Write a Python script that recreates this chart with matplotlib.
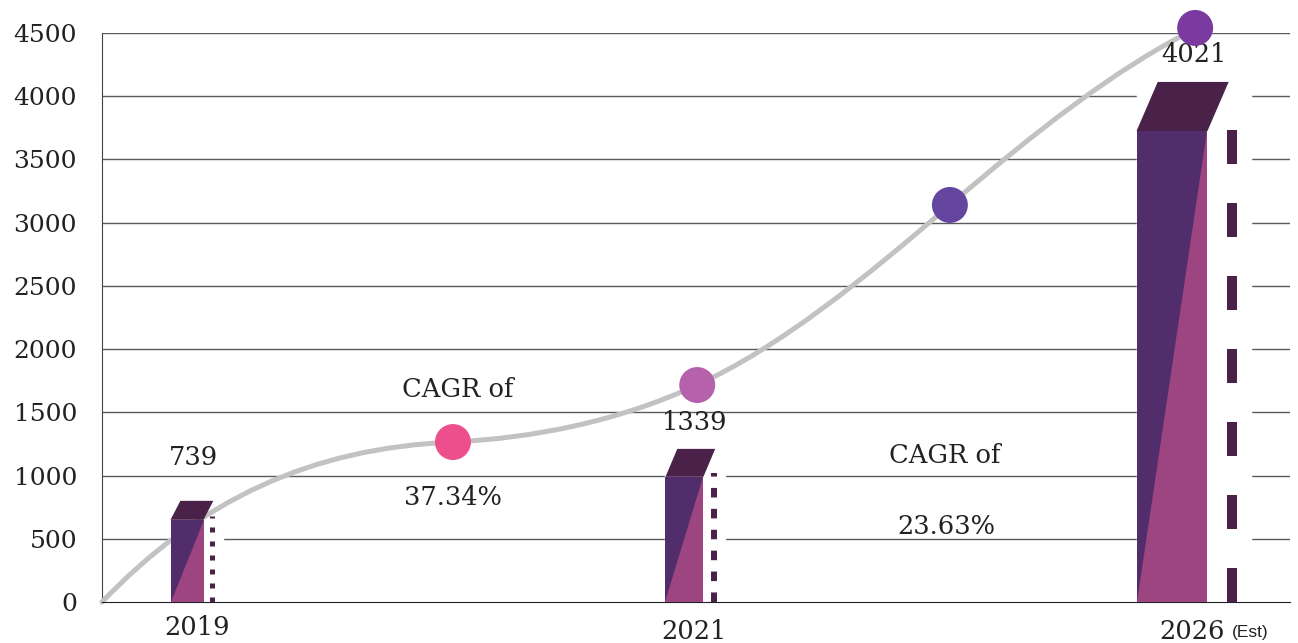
import numpy as np
import matplotlib.pyplot as plt
from matplotlib.patches import Polygon, Rectangle, PathPatch
from matplotlib.path import Path

# data
years = ["2019", "2021", "2026"]
bar_values = [650, 990, 3725]          # height of the front face as drawn
bar_labels = ["739", "1339", "4021"]
cagr_labels = ["37.34%", "23.63%"]
yticks = [0, 500, 1000, 1500, 2000, 2500, 3000, 3500, 4000, 4500]

# the grey trend curve: nodes and bezier handles (node, handle, handle, node, ...)
curve_x = [-0.1726, 0.0264, 0.2497, 0.5401, 0.7025, 0.8731, 1.0355,
           1.2081, 1.3766, 1.5492, 1.7218, 1.8843, 2.0467]
curve_y = [0, 807, 1218, 1265, 1297, 1424, 1716,
           2025, 2563, 3140, 3717, 4215, 4532]
dot_x = [0.540, 1.036, 1.549, 2.047]
dot_y = [1265, 1716, 3140, 4540]

# styling
pos = [0, 1.01, 2]
widths = [0.067, 0.077, 0.144]
depth_x = [0.02, 0.024, 0.043]
depth_y = [150, 221, 388]
dash_off = [0.018, 0.022, 0.049]
dash_lw = [3.6, 4.3, 7.2]
dash_pat = [(1.0, 1.8), (1.6, 1.9), (3.4, 3.9)]
gap_w = [0.022, 0.022, 0.04]
dot_colors = ["#ec4f8c", "#b561ac", "#6446a0", "#7a3a9f"]
purple = "#522d6b"
pink = "#9c4580"
dark = "#4a2249"
serif = "DejaVu Serif"

fig = plt.figure(figsize=(12.98, 6.43), dpi=100)
ax = fig.add_axes([102 / 1298, 41 / 643, (1290 - 102) / 1298, 569 / 643])
ax.set_xlim(-0.1726, 2.2396)
ax.set_ylim(0, 4500)

for y in yticks[1:]:
    ax.axhline(y, color="#5a5a5a", lw=1.0, zorder=0)

for s in ["top", "right"]:
    ax.spines[s].set_visible(False)
ax.spines["left"].set_color("#444444")
ax.spines["bottom"].set_color("#222222")
ax.spines["left"].set_zorder(0.5)
ax.set_yticks(yticks)
ax.set_yticklabels([str(v) for v in yticks], fontsize=18, family=serif, color="#222222")
ax.tick_params(axis="y", length=0, pad=18)
ax.set_xticks([])

for i, x in enumerate(pos):
    w = widths[i]
    h = bar_values[i]
    left = x - w / 2
    right = x + w / 2
    dx = dash_off[i]
    # white block that breaks the grid lines around the bar
    ax.add_patch(Rectangle((left, 0), w + dx + gap_w[i], h + depth_y[i], color="white", zorder=1))
    ax.bar(x, h, width=w, color=pink, zorder=3)
    ax.add_patch(Polygon([(left, 0), (left, h), (right, h)], closed=True, color=purple, zorder=3, lw=0))
    ax.add_patch(Polygon([(left, h), (right, h), (right + depth_x[i], h + depth_y[i]),
                          (left + depth_x[i], h + depth_y[i])], closed=True, color=dark, zorder=3, lw=0))
    ax.plot([right + dx, right + dx], [0, h + 30], color=dark, lw=dash_lw[i],
            linestyle=(0, dash_pat[i]), solid_capstyle="butt", dash_capstyle="butt", zorder=3)

# smooth curve from cubic bezier segments
codes = [Path.MOVETO] + [Path.CURVE4] * (len(curve_x) - 1)
curve = Path(list(zip(curve_x, curve_y)), codes)
ax.add_patch(PathPatch(curve, fill=False, edgecolor="#c2c2c2", lw=3.6,
                       zorder=2, capstyle="round", clip_on=False))

ax.scatter(dot_x, dot_y, s=670, c=dot_colors, zorder=5, clip_on=False, edgecolors="none")

txt = dict(family=serif, fontsize=18.5, color="#222222", ha="center", va="center", clip_on=False)
ax.text(0.014, 1139, bar_labels[0], **txt)
ax.text(1.03, 1416, bar_labels[1], **txt)
ax.text(2.045, 4330, bar_labels[2], **txt)
ax.text(0.02, -198, years[0], **txt)
ax.text(1.03, -230, years[1], **txt)
ax.text(2.04, -230, years[2], **txt)
ax.text(2.121, -240, "(Est)", family="Liberation Sans", fontsize=12.5, color="#222222",
        ha="left", va="center")
ax.text(0.549, 1677, "CAGR of", **txt)
ax.text(0.539, 823, cagr_labels[0], **txt)
ax.text(1.539, 1155, "CAGR of", **txt)
ax.text(1.541, 601, cagr_labels[1], **txt)

fig.savefig("out.png", dpi=100)
